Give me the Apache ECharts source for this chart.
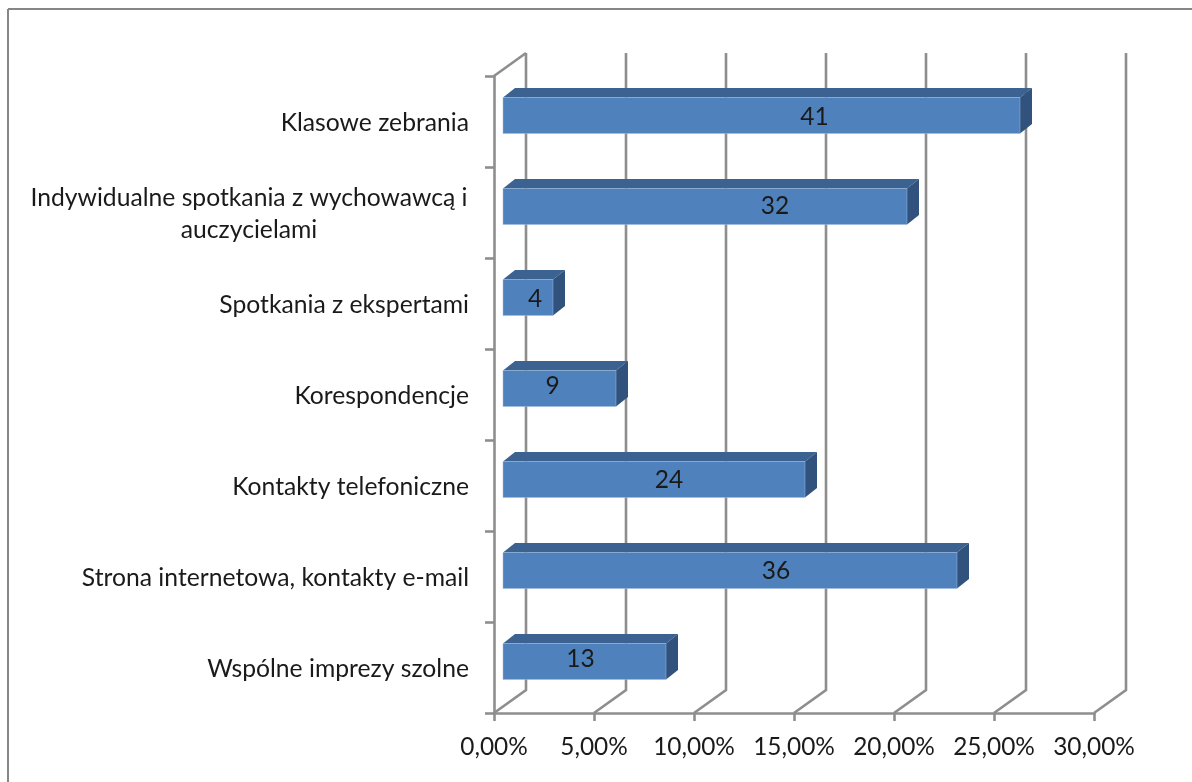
<!DOCTYPE html>
<html><head><meta charset="utf-8">
<style>html,body{margin:0;padding:0;background:#fff}#c{width:1192px;height:782px}</style>
<script src="https://cdn.jsdelivr.net/npm/echarts@6/dist/echarts.min.js"></script>
</head><body><div id="c"></div>
<script>
const categories = ['Klasowe zebrania','Indywidualne spotkania z wychowawcą i\nauczycielami','Spotkania z ekspertami','Korespondencje','Kontakty telefoniczne','Strona internetowa, kontakty e-mail','Wspólne imprezy szolne'];
const shares = [25.85,20.2,2.5,5.65,15.1,22.7,8.15];
const counts = [41,32,4,9,24,36,13];
const ticks = [0,5,10,15,20,25,30];
const labelNudgeX = [53,70,7,-7,15,46,-4];
const labelNudgeY = [1,-1,1,-3,0,0,-3];

const FONT = 'Lato, Carlito, "Noto Sans", sans-serif';
const GRAY = '#8e8e8e';
const TEXT = '#1a1a1a';
const WALL = [32,-23], BAR_START = [9,-6], BAR_DEPTH = [12,-9.5], BAR_H = 36;
const chart = echarts.init(document.getElementById('c'));

function wallItem(params, api){
  const v = api.value(0);
  const band = api.size([0,1])[1];
  const bottom = api.coord([v, categories.length-1]); bottom[1] += band/2;
  const top = api.coord([v, 0]); top[1] -= band/2;
  const backB = [bottom[0]+WALL[0], bottom[1]+WALL[1]];
  const backT = [top[0]+WALL[0], top[1]+WALL[1]];
  const style = {stroke:GRAY,lineWidth:2.6,fill:null};
  const children = [{type:'polyline',shape:{points:[bottom, backB, backT]},style,silent:true}];
  if(v===0){
    children.push({type:'polyline',shape:{points:[top,backT]},style,silent:true});
  }
  return {type:'group',children};
}
function barItem(params, api){
  const cat = api.value(1);
  const i = params.dataIndex;
  const p0 = api.coord([0,cat]);
  const p1 = api.coord([api.value(0),cat]);
  const x0 = p0[0]+BAR_START[0], x1 = p1[0]+BAR_START[0];
  const yT = p0[1]+BAR_START[1]-BAR_H/2, yB = yT+BAR_H;
  const dx = BAR_DEPTH[0], dy = BAR_DEPTH[1];
  return {type:'group',children:[
    {type:'polygon',shape:{points:[[x0,yT],[x0+dx,yT+dy],[x1+dx,yT+dy],[x1,yT]]},style:{fill:'#3b6290'}},
    {type:'polygon',shape:{points:[[x1,yT],[x1+dx,yT+dy],[x1+dx,yB+dy],[x1,yB]]},style:{fill:'#30527c'}},
    {type:'rect',shape:{x:x0,y:yT,width:x1-x0,height:BAR_H},style:{fill:'#4f81bd',stroke:'#9fbbdc',lineWidth:0.5}},
    {type:'text',style:{x:(x0+x1)/2+labelNudgeX[i],y:(yT+yB)/2+1+labelNudgeY[i],text:String(counts[i]),align:'center',verticalAlign:'middle',font:'24.5px '+FONT,fill:TEXT}}
  ]};
}
chart.setOption({
  animation:false,
  backgroundColor:'#fff',
  grid:{left:494,right:98,top:76,bottom:69,containLabel:false},
  xAxis:{type:'value',min:0,max:30,interval:5,
    axisLine:{show:true,lineStyle:{color:GRAY,width:2.6}},
    axisTick:{show:true,length:8,lineStyle:{color:GRAY,width:2.6}},
    splitLine:{show:false},
    axisLabel:{margin:22,formatter:v=>v.toFixed(2).replace('.',',')+'%',fontFamily:FONT,fontSize:24.4,color:TEXT}},
  yAxis:{type:'category',inverse:true,data:categories,
    axisLine:{show:true,lineStyle:{color:GRAY,width:2.6}},
    axisTick:{show:true,length:9,alignWithLabel:false,lineStyle:{color:GRAY,width:2.6}},
    splitLine:{show:false},
    axisLabel:{margin:25,fontFamily:FONT,fontSize:24.7,color:TEXT,lineHeight:32,align:'right',interval:0,padding:[4,0,0,0],
      formatter:s=>s.split('\n').length>1?s.split('\n').map(l=>'{c|'+l+'}').join('\n'):s,
      rich:{c:{width:440,align:'center',fontFamily:FONT,fontSize:24.7,color:TEXT,lineHeight:32}}}},
  series:[
    {type:'custom',coordinateSystem:'cartesian2d',data:ticks.map(t=>[t,0]),renderItem:wallItem,silent:true,z:1,clip:false},
    {type:'custom',coordinateSystem:'cartesian2d',data:shares.map((s,i)=>[s,i]),renderItem:barItem,silent:true,z:3,clip:false,encode:{x:0,y:1}}
  ],
  graphic:[
    {type:'line',silent:true,shape:{x1:8,y1:9,x2:1192,y2:9},style:{stroke:'#868686',lineWidth:2}},
    {type:'line',silent:true,shape:{x1:8,y1:9,x2:8,y2:782},style:{stroke:'#868686',lineWidth:2}}
  ]
});
</script></body></html>
